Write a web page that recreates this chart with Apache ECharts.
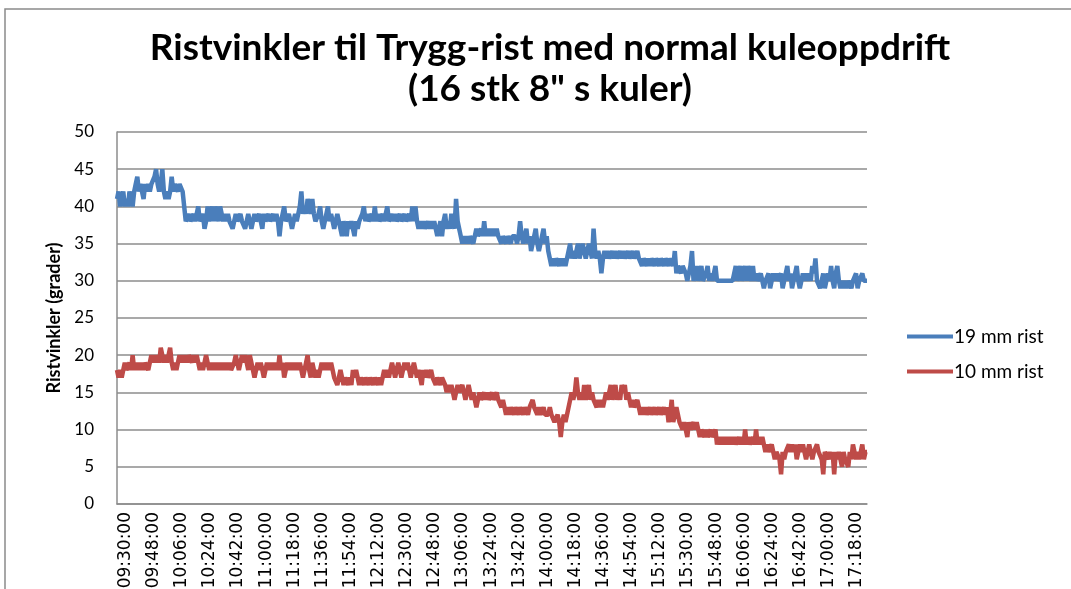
<!DOCTYPE html>
<html>
<head>
<meta charset="utf-8">
<script src="https://cdn.jsdelivr.net/npm/echarts@6/dist/echarts.min.js"></script>
<style>
  html, body { margin: 0; padding: 0; background: #fff; }
  #chart { width: 1071px; height: 589px; }
</style>
</head>
<body>
<div id="chart"></div>
<script>
// ---- data ----
const titleText = 'Ristvinkler til Trygg-rist med normal kuleoppdrift\n(16 stk 8" s kuler)';
const yAxisName = 'Ristvinkler (grader)';
const seriesNames = ['19 mm rist', '10 mm rist'];
const startTime = '09:30:00';   // first sample, one sample per minute
const sampleCount = 481;        // 09:30 .. 17:30

const rist19 = [
  41,42,40,41,42,40,41,40,42,41,
  40,42,43,44,42,43,42,41,43,42,
  43,42,43,43,44,45,43,42,43,45,
  42,41,42,41,42,44,42,43,43,42,
  43,43,42,40,38,38,39,38,38,39,
  38,39,40,38,38,39,37,38,40,38,
  39,40,38,40,39,38,40,39,38,39,
  38,39,38,38,37,38,39,38,38,39,
  38,38,37,38,39,38,37,38,39,38,
  38,39,38,37,39,38,38,39,38,38,
  39,38,39,38,36,38,39,40,38,38,
  39,38,37,38,39,38,39,40,42,39,
  40,39,41,40,39,41,39,38,38,39,
  40,38,37,38,39,40,38,39,38,37,
  38,39,38,37,36,38,37,36,38,37,
  38,37,36,38,37,38,38,39,40,38,
  39,38,38,39,38,40,38,39,38,38,
  39,38,38,40,38,38,39,38,39,38,
  38,39,38,38,39,38,38,39,38,40,
  38,40,38,37,38,37,38,37,37,38,
  37,38,37,38,37,36,37,38,36,38,
  39,37,38,37,39,38,37,41,38,37,
  36,35,36,35,36,35,36,36,35,36,
  37,36,36,37,36,38,36,37,36,37,
  36,37,36,37,36,36,35,36,36,35,
  36,36,35,36,36,36,35,36,38,36,
  35,36,37,35,36,34,35,36,37,35,
  34,35,36,37,35,36,34,33,32,33,
  32,33,33,32,33,32,33,32,33,33,
  35,33,34,33,34,35,33,34,35,34,
  33,34,35,34,33,37,34,33,34,33,
  31,33,34,33,34,33,33,34,33,34,
  33,33,34,33,34,33,33,34,33,33,
  34,33,33,34,33,33,32,33,33,32,
  33,32,33,33,32,33,33,32,33,33,
  32,33,33,32,33,33,32,34,31,32,
  32,31,32,32,31,30,31,32,34,30,
  31,32,30,31,32,30,30,31,32,30,
  31,30,31,32,30,30,30,30,30,30,
  30,30,30,30,30,31,32,30,31,32,
  30,31,32,30,32,31,30,32,30,31,
  30,30,31,30,29,30,30,31,29,30,
  31,30,31,30,30,31,29,30,31,32,
  30,31,29,30,31,32,30,29,30,31,
  30,31,30,31,30,32,31,33,30,30,
  29,30,31,29,30,31,30,32,30,29,
  31,32,30,29,30,29,30,29,30,30,
  29,30,30,31,29,30,30,31,30,30,
  30
];

const rist10 = [
  18,17,18,17,18,19,18,18,19,18,
  20,18,19,18,19,18,19,18,19,19,
  18,19,20,19,20,19,20,19,21,20,
  19,20,19,20,21,19,18,19,18,19,
  20,19,20,19,20,19,20,20,19,20,
  19,20,19,18,19,18,19,20,19,18,
  19,18,19,18,19,18,19,18,19,18,
  19,18,19,18,18,19,20,19,18,19,
  20,19,20,19,18,20,19,18,17,18,
  19,18,19,18,17,18,19,18,19,18,
  19,18,19,18,20,18,19,17,18,19,
  18,19,18,19,18,19,18,19,18,17,
  18,19,20,18,17,19,18,17,18,17,
  18,19,18,19,18,19,18,19,18,17,
  17,16,17,18,17,16,17,17,16,17,
  16,18,17,18,17,16,17,17,16,17,
  17,16,17,17,16,17,17,16,17,16,
  17,18,17,18,17,18,19,18,17,18,
  19,18,17,18,19,18,19,18,17,18,
  19,18,17,18,17,16,18,17,18,17,
  17,18,17,17,16,17,17,16,17,17,
  16,15,16,15,16,15,14,15,16,15,
  15,16,15,14,15,16,15,14,15,14,
  13,14,15,14,14,15,14,15,14,14,
  15,14,14,15,14,14,13,14,13,12,
  13,12,13,13,12,13,13,12,13,13,
  12,13,13,12,13,13,14,13,13,12,
  13,12,12,13,12,12,12,13,12,12,
  11,11,12,11,9,11,12,11,12,12,
  14,15,14,15,17,15,14,15,14,16,
  14,15,16,14,15,14,14,13,14,13,
  14,13,14,15,14,15,16,14,15,16,
  14,15,14,16,15,16,14,15,14,13,
  14,13,13,14,13,12,13,12,13,12,
  12,13,12,12,13,12,12,13,12,12,
  13,12,13,11,12,14,11,12,13,12,
  11,11,10,11,10,9,11,10,10,11,
  10,11,10,9,10,10,9,10,9,9,
  10,9,9,10,8,9,8,9,8,9,
  8,9,8,9,8,9,8,8,9,8,
  9,8,10,8,9,8,8,9,8,10,
  8,9,8,9,8,7,8,7,7,8,
  7,6,7,7,6,4,7,6,7,7,
  8,7,8,7,8,6,7,8,7,8,
  7,6,7,8,7,6,7,7,8,7,
  7,6,4,7,7,6,7,6,7,4,
  7,6,7,6,5,7,6,6,5,7,
  6,8,7,6,7,6,7,8,6,7,
  7
];

// time categories, one per minute
const categories = [];
(function () {
  const p = startTime.split(':').map(Number);
  let m = p[0] * 60 + p[1];
  for (let i = 0; i < sampleCount; i++, m++) {
    const hh = String(Math.floor(m / 60)).padStart(2, '0');
    const mm = String(m % 60).padStart(2, '0');
    categories.push(hh + ':' + mm + ':00');
  }
})();

const chart = echarts.init(document.getElementById('chart'), null, { renderer: 'canvas' });
const gridColor = '#8c8c8c';

chart.setOption({
  animation: false,
  backgroundColor: '#ffffff',
  graphic: [{
    type: 'rect',
    shape: { x: 5, y: 9, width: 1200, height: 800 },
    style: { fill: 'none', stroke: '#8a8a8a', lineWidth: 1.5 },
    silent: true, z: -10
  }],
  title: {
    text: titleText,
    left: 545,
    top: 23,
    textAlign: 'center',
    textStyle: {
      fontFamily: 'Lato',
      fontWeight: 'bold',
      fontSize: 37,
      lineHeight: 41,
      color: '#000'
    }
  },
  legend: {
    orient: 'vertical',
    left: 902,
    top: 322,
    itemGap: 16,
    itemWidth: 46,
    itemHeight: 4,
    icon: 'rect',
    textStyle: { fontFamily: 'Lato', fontSize: 19, color: '#000', lineHeight: 18, padding: [0, 0, 0, -4] },
    data: seriesNames
  },
  grid: { left: 117, right: 204, top: 132, bottom: 85, containLabel: false, outerBoundsMode: 'none' },
  xAxis: {
    type: 'category',
    data: categories,
    boundaryGap: false,
    axisLine: { lineStyle: { color: gridColor, width: 1.5 } },
    axisTick: { show: false },
    axisLabel: {
      interval: 17,
      rotate: 90,
      margin: 8,
      verticalAlign: 'top',
      fontFamily: 'DejaVu Sans',
      fontSize: 17,
      color: '#000'
    },
    splitLine: { show: false }
  },
  yAxis: {
    type: 'value',
    min: 0,
    max: 50,
    interval: 5,
    name: yAxisName,
    nameLocation: 'middle',
    nameGap: 54,
    nameTextStyle: { fontFamily: 'Lato', fontWeight: 'bold', fontSize: 18, color: '#000' },
    axisLine: { show: true, lineStyle: { color: gridColor, width: 1.5 } },
    axisTick: { show: false },
    axisLabel: { fontFamily: 'Lato', fontSize: 17, color: '#000', margin: 23 },
    splitLine: { lineStyle: { color: gridColor, width: 1.5 } }
  },
  series: [
    {
      name: seriesNames[0],
      type: 'line',
      data: rist19,
      showSymbol: false,
      symbol: 'none',
      color: '#4A7EBB',
      lineStyle: { width: 4.5, color: '#4A7EBB' }
    },
    {
      name: seriesNames[1],
      type: 'line',
      data: rist10,
      showSymbol: false,
      symbol: 'none',
      color: '#BE4B48',
      lineStyle: { width: 4.5, color: '#BE4B48' }
    }
  ]
});
</script>
</body>
</html>
